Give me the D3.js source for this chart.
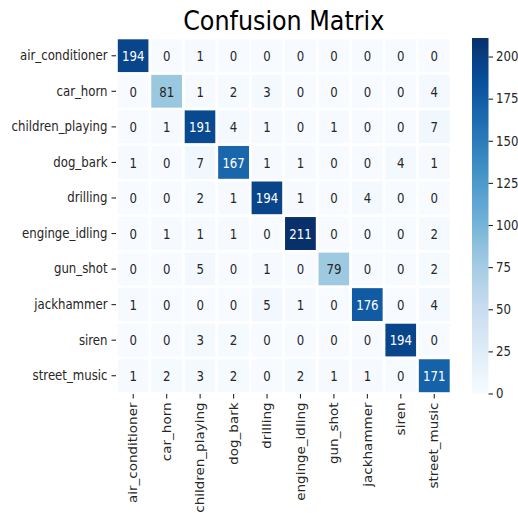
<!DOCTYPE html>
<html>
<head>
<meta charset="utf-8">
<script src="https://cdn.jsdelivr.net/npm/d3@7"></script>
<style>
  html, body { margin: 0; padding: 0; background: #fff; }
  svg { display: block; }
  text { font-family: "DejaVu Sans", sans-serif; }
</style>
</head>
<body>
<svg id="chart" width="518" height="513"></svg>
<script>
// Class labels (rows = true class, columns = predicted class)
const classes = ["air_conditioner", "car_horn", "children_playing", "dog_bark", "drilling",
                 "enginge_idling", "gun_shot", "jackhammer", "siren", "street_music"];

// Confusion counts, one array per true class
const air_conditioner  = [194, 0, 1, 0, 0, 0, 0, 0, 0, 0];
const car_horn         = [0, 81, 1, 2, 3, 0, 0, 0, 0, 4];
const children_playing = [0, 1, 191, 4, 1, 0, 1, 0, 0, 7];
const dog_bark         = [1, 0, 7, 167, 1, 1, 0, 0, 4, 1];
const drilling         = [0, 0, 2, 1, 194, 1, 0, 4, 0, 0];
const enginge_idling   = [0, 1, 1, 1, 0, 211, 0, 0, 0, 2];
const gun_shot         = [0, 0, 5, 0, 1, 0, 79, 0, 0, 2];
const jackhammer       = [1, 0, 0, 0, 5, 1, 0, 176, 0, 4];
const siren            = [0, 0, 3, 2, 0, 0, 0, 0, 194, 0];
const street_music     = [1, 2, 3, 2, 0, 2, 1, 1, 0, 171];

const matrix = [air_conditioner, car_horn, children_playing, dog_bark, drilling,
                enginge_idling, gun_shot, jackhammer, siren, street_music];

// Colorbar ticks
const cbarTicks = [0, 25, 50, 75, 100, 125, 150, 175, 200];

const title = "Confusion Matrix";

// ---- layout ----
const hm = { x0: 116.5, x1: 451, y0: 38, y1: 393.5 };
const cb = { x0: 472, x1: 488.5 };
const sx = 0.87;          // horizontal glyph squeeze
const fs = 13.5;          // label font size
const ink = "#262626";

const svg = d3.select("#chart");

const x = d3.scaleBand().domain(d3.range(classes.length)).range([hm.x0, hm.x1]);
const y = d3.scaleBand().domain(d3.range(classes.length)).range([hm.y0, hm.y1]);

const vmax = d3.max(matrix.flat());
const vmin = 0;

// Blues ramp, linearly interpolated like the matplotlib colormap
const bluesStops = ["#f7fbff", "#deebf7", "#c6dbef", "#9ecae1", "#6baed6",
                    "#4292c6", "#2171b5", "#08519c", "#08306b"];
const color = d3.scaleLinear()
  .domain(bluesStops.map((_, i) => vmin + (vmax - vmin) * i / (bluesStops.length - 1)))
  .range(bluesStops)
  .interpolate(d3.interpolateRgb)
  .clamp(true);

function luminance(c) {
  const rgb = d3.rgb(c);
  const f = v => { v /= 255; return v <= 0.03928 ? v / 12.92 : Math.pow((v + 0.055) / 1.055, 2.4); };
  return 0.2126 * f(rgb.r) + 0.7152 * f(rgb.g) + 0.0722 * f(rgb.b);
}

const cells = [];
matrix.forEach((row, i) => row.forEach((v, j) => cells.push({ i, j, v })));

// cells
svg.append("g").selectAll("rect").data(cells).join("rect")
  .attr("x", d => x(d.j))
  .attr("y", d => y(d.i))
  .attr("width", x.bandwidth())
  .attr("height", y.bandwidth())
  .attr("fill", d => color(d.v))
  .attr("stroke", "#fff")
  .attr("stroke-width", 2.6);

// annotations
svg.append("g").selectAll("text").data(cells).join("text")
  .attr("transform", d => `translate(${x(d.j) + x.bandwidth() / 2},${y(d.i) + y.bandwidth() / 2 + 0.5}) scale(${sx},1)`)
  .attr("text-anchor", "middle")
  .attr("dominant-baseline", "central")
  .attr("font-size", fs + "px")
  .attr("fill", d => luminance(color(d.v)) > 0.408 ? ink : "#ffffff")
  .text(d => d.v);

// y axis
const yAxis = d3.axisLeft(d3.scaleBand().domain(classes).range([hm.y0, hm.y1]))
  .tickSize(4.5).tickPadding(3.5);
const gy = svg.append("g").attr("transform", `translate(${hm.x0 - 0.5},0)`).call(yAxis);
gy.select(".domain").remove();
gy.selectAll(".tick line").attr("stroke", ink).attr("stroke-width", 1.1);
gy.selectAll(".tick text")
  .attr("font-size", fs + "px").attr("fill", ink)
  .attr("font-family", "DejaVu Sans, sans-serif")
  .attr("x", 0)
  .attr("transform", `translate(-8.5,0) scale(${sx},1)`);

// x axis with vertical labels
const xAxis = d3.axisBottom(d3.scaleBand().domain(classes).range([hm.x0, hm.x1]))
  .tickSize(4.5).tickPadding(3.5);
const gx = svg.append("g").attr("transform", `translate(0,${hm.y1 + 0.5})`).call(xAxis);
gx.select(".domain").remove();
gx.selectAll(".tick line").attr("stroke", ink).attr("stroke-width", 1.1);
gx.selectAll(".tick text")
  .attr("font-size", fs + "px").attr("fill", ink)
  .attr("font-family", "DejaVu Sans, sans-serif")
  .attr("text-anchor", "end")
  .attr("dominant-baseline", "central")
  .attr("dy", null)
  .attr("x", 0).attr("y", 0)
  .attr("transform", `translate(0,8.5) scale(${sx},1) rotate(-90)`);

// colorbar
const cbScale = d3.scaleLinear().domain([vmin, vmax]).range([hm.y1, hm.y0]);
const defs = svg.append("defs");
const grad = defs.append("linearGradient").attr("id", "cbgrad")
  .attr("x1", 0).attr("y1", 1).attr("x2", 0).attr("y2", 0);
d3.range(0, 1.0001, 0.05).forEach(t => {
  grad.append("stop").attr("offset", t).attr("stop-color", color(vmin + t * (vmax - vmin)));
});
svg.append("rect")
  .attr("x", cb.x0).attr("y", hm.y0)
  .attr("width", cb.x1 - cb.x0).attr("height", hm.y1 - hm.y0)
  .attr("fill", "url(#cbgrad)");

const cbAxis = d3.axisRight(cbScale).tickValues(cbarTicks).tickSize(4.5).tickPadding(3);
const gc = svg.append("g").attr("transform", `translate(${cb.x1},0)`).call(cbAxis);
gc.select(".domain").remove();
gc.selectAll(".tick line").attr("stroke", ink).attr("stroke-width", 1.1);
gc.selectAll(".tick text")
  .attr("font-size", fs + "px").attr("fill", ink)
  .attr("font-family", "DejaVu Sans, sans-serif")
  .attr("x", 0)
  .attr("transform", `translate(7.5,0) scale(${sx},1)`);

// title
svg.append("text")
  .attr("transform", `translate(${(hm.x0 + hm.x1) / 2},30) scale(${sx},1)`)
  .attr("text-anchor", "middle")
  .attr("font-size", "27.4px")
  .attr("fill", "#000")
  .text(title);
</script>
</body>
</html>
